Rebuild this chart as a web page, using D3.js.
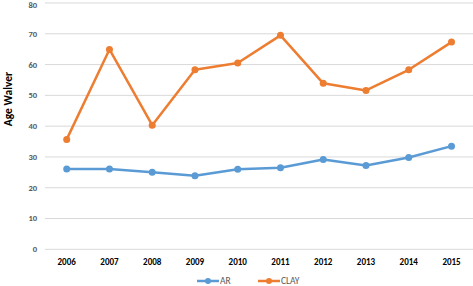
<!DOCTYPE html>
<html>
<head>
<meta charset="utf-8">
<script src="https://cdn.jsdelivr.net/npm/d3@7"></script>
<style>
  body { margin: 0; background: #fff; }
  text { font-family: Calibri, Carlito, "Liberation Sans", Arial, sans-serif; }
</style>
</head>
<body>
<div id="app"></div>
<script>
const years = ['2006', '2007', '2008', '2009', '2010', '2011', '2012', '2013', '2014', '2015'];
const arValues = [26.1, 26.1, 25.0, 23.9, 26.0, 26.5, 29.2, 27.2, 29.8, 33.5];
const clayValues = [35.7, 64.9, 40.3, 58.3, 60.5, 69.5, 53.9, 51.6, 58.3, 67.3];
const yTicks = [0, 10, 20, 30, 40, 50, 60, 70, 80];

const series = [
  { name: 'AR', values: arValues, color: '#5b9bd5' },
  { name: 'CLAY', values: clayValues, color: '#ed7d31' }
];

const width = 473;
const height = 286;

const svg = d3.select('#app')
              .append('svg')
              .attr('width', width)
              .attr('height', height)

const x = d3.scalePoint()
            .domain(years)
            .range([66.7, 451.5])

const y = d3.scaleLinear()
            .domain([0, 80])
            .range([249.3, 3])

// gridlines
svg.append('g')
   .selectAll('line')
   .data(yTicks)
   .enter()
   .append('line')
   .attr('x1', 45)
   .attr('x2', 473)
   .attr('y1', d => y(d))
   .attr('y2', d => y(d))
   .attr('stroke', '#d9d9d9')
   .attr('stroke-width', 1)

// y tick labels
svg.append('g')
   .selectAll('text')
   .data(yTicks)
   .enter()
   .append('text')
   .attr('x', 37)
   .attr('y', d => Math.max(y(d), 5))
   .attr('dy', '0.35em')
   .attr('text-anchor', 'end')
   .attr('font-size', 8.5)
   .attr('font-weight', 'bold')
   .attr('fill', '#595959')
   .text(d => d)

// x labels
svg.append('g')
   .selectAll('text')
   .data(years)
   .enter()
   .append('text')
   .attr('x', d => x(d))
   .attr('y', 265)
   .attr('text-anchor', 'middle')
   .attr('font-size', 9)
   .attr('font-weight', 'bold')
   .attr('fill', '#000')
   .text(d => d)

// y axis title
svg.append('text')
   .attr('transform', 'translate(12, 99) rotate(-90)')
   .attr('text-anchor', 'middle')
   .attr('font-size', 11.5)
   .attr('font-weight', 'bold')
   .attr('fill', '#000')
   .text('Age Walver')

const line = d3.line()
               .x((d, i) => x(years[i]))
               .y(d => y(d))

const lines = svg.selectAll('.series')
                 .data(series)
                 .enter()
                 .append('g')
                 .attr('class', 'series')

lines.append('path')
     .attr('d', d => line(d.values))
     .attr('fill', 'none')
     .attr('stroke', d => d.color)
     .attr('stroke-width', 2.5)
     .attr('stroke-linejoin', 'round')

lines.selectAll('circle')
     .data(d => d.values.map(v => ({ v, color: d.color })))
     .enter()
     .append('circle')
     .attr('cx', (d, i) => x(years[i]))
     .attr('cy', d => y(d.v))
     .attr('r', 3.5)
     .attr('fill', d => d.color)

// legend
const legendX = [197, 258];
const legend = svg.selectAll('.legend')
                  .data(series)
                  .enter()
                  .append('g')
                  .attr('class', 'legend')
                  .attr('transform', (d, i) => `translate(${legendX[i]}, 281)`)

legend.append('line')
      .attr('x1', 0)
      .attr('x2', 22)
      .attr('stroke', d => d.color)
      .attr('stroke-width', 2.5)

legend.append('circle')
      .attr('cx', 11)
      .attr('r', 3)
      .attr('fill', d => d.color)

legend.append('text')
      .attr('x', 23)
      .attr('dy', '0.35em')
      .attr('font-size', 9.5)
      .attr('fill', '#595959')
      .text(d => d.name)
</script>
</body>
</html>
